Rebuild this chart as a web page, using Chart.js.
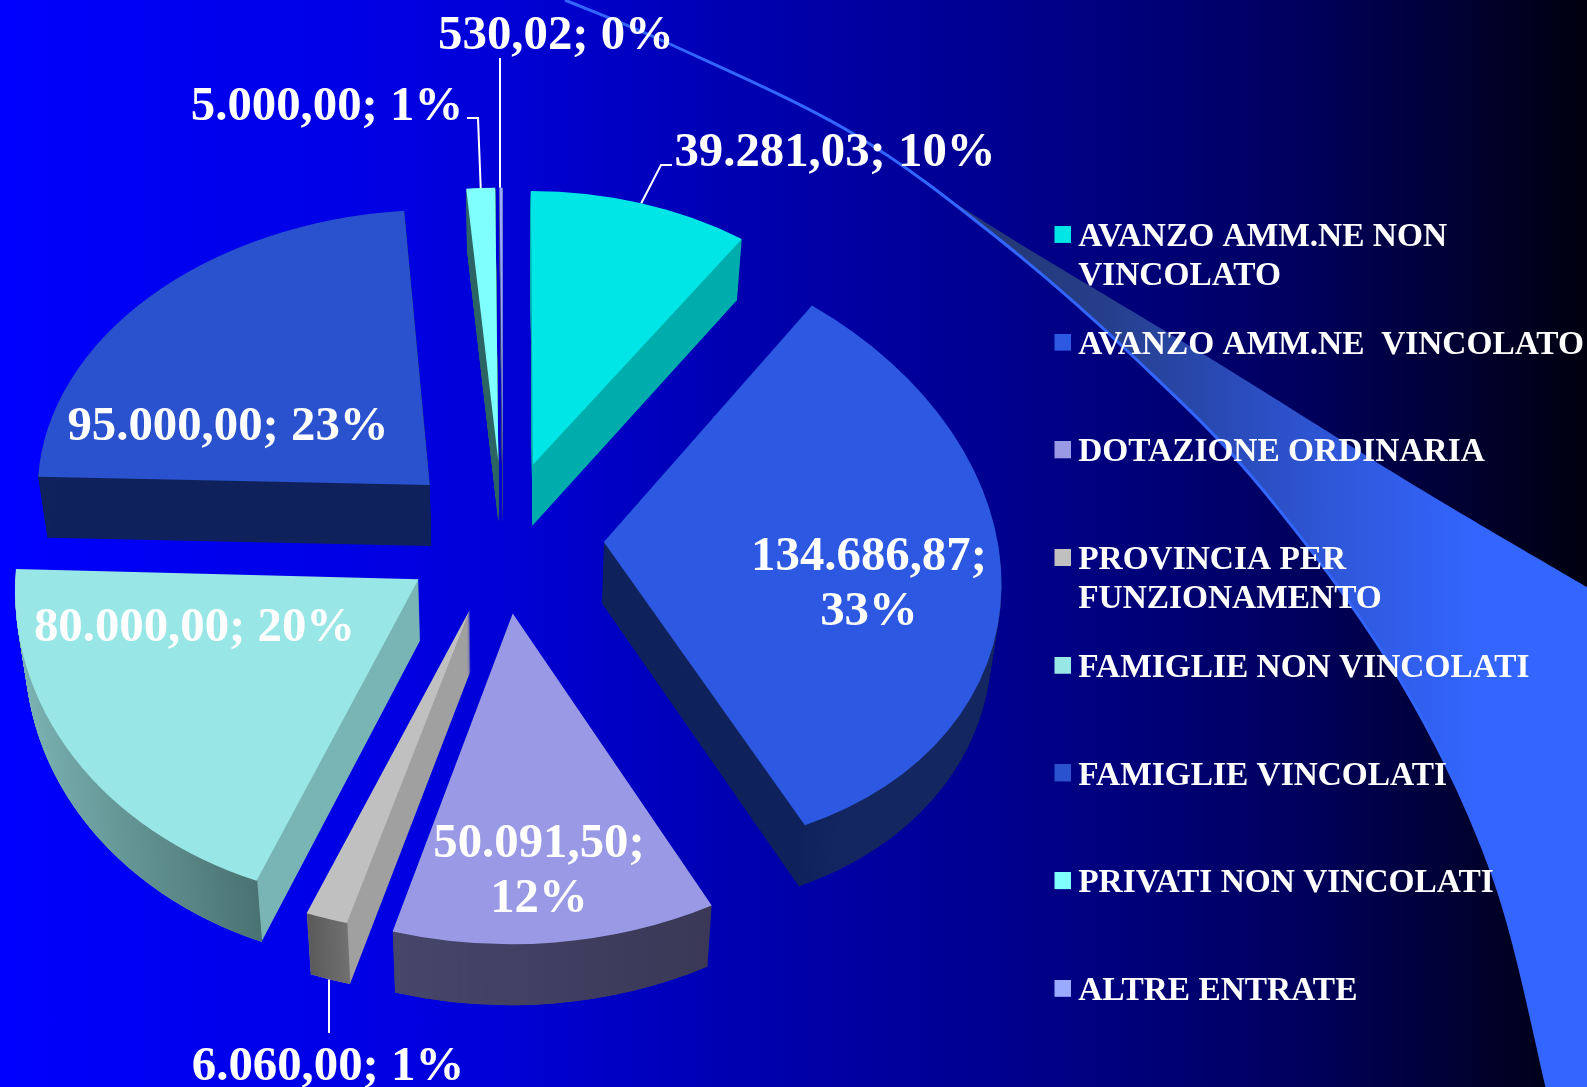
<!DOCTYPE html>
<html lang="it">
<head>
<meta charset="utf-8">
<title>Entrate</title>
<script src="https://cdn.jsdelivr.net/npm/chart.js@4/dist/chart.umd.min.js"></script>
<style>
html,body{margin:0;padding:0;width:1587px;height:1087px;overflow:hidden;background:#000}
#stage{position:relative;width:1587px;height:1087px;
 background:linear-gradient(90deg,#0000ff 0,#0000f0 180px,#0000e2 400px,#0000d6 500px,#0000b0 740px,#00008f 1000px,#00005e 1300px,#00000f 1587px)}
#swoosh{position:absolute;left:0;top:0}
#c{position:absolute;left:0;top:0;filter:blur(.5px)}
</style>
</head>
<body>
<div id="stage">
<svg id="swoosh" width="1587" height="1087" viewBox="0 0 1587 1087">
<defs><linearGradient id="sw" gradientUnits="userSpaceOnUse" x1="950" y1="0" x2="1480" y2="0">
<stop offset="0" stop-color="#24356e"/><stop offset=".3" stop-color="#263f8c"/><stop offset=".55" stop-color="#2a4cbc"/><stop offset=".75" stop-color="#2f58dc"/><stop offset="1" stop-color="#3366ff"/></linearGradient></defs>
<path id="swFill" fill="url(#sw)"/>
<path id="swLine" fill="none" stroke="#3366ff" stroke-width="3"/>
</svg>
<canvas id="c" width="1587" height="1087"></canvas>
</div>
<script>
// ---- data ----
const categories = [
  ['AVANZO AMM.NE NON', 'VINCOLATO'],
  ['AVANZO AMM.NE  VINCOLATO', ''],
  ['DOTAZIONE ORDINARIA', ''],
  ['PROVINCIA PER', 'FUNZIONAMENTO'],
  ['FAMIGLIE NON VINCOLATI', ''],
  ['FAMIGLIE VINCOLATI', ''],
  ['PRIVATI NON VINCOLATI', ''],
  ['ALTRE ENTRATE', '']
];
const values = [39281.03, 134686.87, 50091.50, 6060.00, 80000.00, 95000.00, 5000.00, 530.02];
const valueLabels = ['39.281,03; 10%', ['134.686,87;', '33%'], ['50.091,50;', '12%'], '6.060,00; 1%',
                     '80.000,00; 20%', '95.000,00; 23%', '5.000,00; 1%', '530,02; 0%'];

// ---- styles ----
const topColors  = ['#00E6E6', '#2C58E2', '#9999E6', '#C0C0C0', '#99E6E6', '#2A52CE', '#80FFFF', '#99AAFF'];
const cutColors  = ['#00ADAD', '#10225C', '#3E3C5C', '#A0A0A0', '#7AB5B5', '#10225C', '#2F6666', '#3A4A80'];
const wallFrom   = ['#00ADAD', '#10225C', '#46466C', '#5A5A5A', '#7CB4B4', '#10225C', '#2F6666', '#3A4A80'];
const wallTo     = ['#00ADAD', '#14265F', '#3A3856', '#707070', '#4A7272', '#10225C', '#2F6666', '#3A4A80'];
const labelCenters = [[835,153],[869,557],[539,844],[328,1067],[194.5,628],[228,427],[327,107],[556,36]];
const leaderPaths  = [[[672,165],[661,165]], null, null, [[329,1033]], null, null, [[467,118],[478,118]], [[500,58]]];

// perspective look of each slice: horizontal scale, horizontal lean, vertical lean, vertical scale
const sliceScaleX = [0.931, 0.993, 1.072, 1.140, 1.008, 0.980, 0.950, 0.950];
const sliceLeanX  = [0.005, 0.050, 0.003, 0.015, -0.034, -0.019, 0, 0];
const sliceLeanY  = [0, 0.067, -0.007, 0, -0.001, -0.002, 0, 0];
const sliceScaleY = [0.684, 0.763, 0.827, 0.817, 0.811, 0.688, 0.684, 0.684];

const PIE_CX = 503, PIE_CY = 537.5, EXPLODE = 101, EXPLODE_SQUASH = 0.755, DEPTH = 61, DEPTH_TAPER = 0.02;
const LABEL_FONT = 'bold 48.8px "Liberation Serif"';

function sliceGeom(el, i) {
  const p = el.getProps(['x', 'y', 'startAngle', 'endAngle', 'outerRadius'], true);
  const a = (p.startAngle + p.endAngle) / 2;
  const ax = PIE_CX + EXPLODE * Math.cos(a);
  const ay = PIE_CY + EXPLODE * EXPLODE_SQUASH * Math.sin(a);
  return {...p, a, ax, ay, sx: sliceScaleX[i], sh: sliceLeanX[i], m: sliceLeanY[i], k: sliceScaleY[i]};
}
function applySlice(ctx, g, d) {
  const f = 1 - DEPTH_TAPER * d / DEPTH;
  ctx.translate(PIE_CX, d);
  ctx.scale(f, 1);
  ctx.translate(-PIE_CX, 0);
  ctx.translate(g.ax, g.ay);
  ctx.transform(g.sx, g.m, g.sh, g.k, 0, 0);
  ctx.translate(-g.x, -g.y);
}
function rimPoint(g) {
  const u = g.outerRadius * Math.cos(g.a), v = g.outerRadius * Math.sin(g.a);
  return [g.ax + g.sx * u + g.sh * v, g.ay + g.m * u + g.k * v];
}

const pie3d = {
  id: 'pie3d',
  beforeDatasetDraw(chart) {
    const ctx = chart.ctx;
    const arcs = chart.getDatasetMeta(0).data;
    const order = arcs.map((el, i) => ({el, i, g: sliceGeom(el, i)})).sort((u, v) => u.g.ay - v.g.ay);
    for (const {el, i, g} of order) {
      ctx.fillStyle = cutColors[i];
      for (let d = DEPTH; d > 0; d--) {
        ctx.save();
        applySlice(ctx, g, d);
        ctx.beginPath();
        ctx.moveTo(g.x, g.y);
        ctx.arc(g.x, g.y, g.outerRadius, g.startAngle, g.endAngle);
        ctx.closePath();
        ctx.fill();
        ctx.restore();
      }
      for (let d = DEPTH; d > 0; d--) {
        ctx.save();
        applySlice(ctx, g, d);
        const grad = ctx.createLinearGradient(
          g.x + g.outerRadius * Math.min(Math.cos(g.startAngle), Math.cos(g.endAngle)), 0,
          g.x + g.outerRadius * Math.max(Math.cos(g.startAngle), Math.cos(g.endAngle)), 0);
        grad.addColorStop(0, wallFrom[i]);
        grad.addColorStop(1, wallTo[i]);
        ctx.strokeStyle = grad;
        ctx.lineWidth = 2;
        ctx.beginPath();
        ctx.arc(g.x, g.y, g.outerRadius - 1, g.startAngle, g.endAngle);
        ctx.stroke();
        ctx.restore();
      }
      ctx.save();
      applySlice(ctx, g, 0);
      el.draw(ctx);
      ctx.restore();
    }
    return false;
  },
  afterDatasetsDraw(chart) {
    const ctx = chart.ctx;
    const arcs = chart.getDatasetMeta(0).data;
    ctx.save();
    ctx.strokeStyle = '#fff';
    ctx.lineWidth = 2;
    arcs.forEach((el, i) => {
      const path = leaderPaths[i];
      if (!path) return;
      const g = sliceGeom(el, i);
      const rim = rimPoint(g);
      if (Math.sin(g.a) > 0) rim[1] += DEPTH;
      ctx.beginPath();
      path.forEach((pt, n) => n ? ctx.lineTo(pt[0], pt[1]) : ctx.moveTo(pt[0], pt[1]));
      ctx.lineTo(path.length === 1 ? path[0][0] : rim[0], rim[1]);
      ctx.stroke();
    });
    ctx.font = LABEL_FONT;
    ctx.fillStyle = '#fff';
    ctx.textAlign = 'center';
    ctx.textBaseline = 'middle';
    valueLabels.forEach((t, i) => {
      const lines = Array.isArray(t) ? t : [t];
      const [x, y] = labelCenters[i];
      lines.forEach((line, n) => ctx.fillText(line, x, y + n * 55));
    });
    ctx.restore();
  }
};

function legendSwatch(color) {
  const s = document.createElement('canvas');
  s.width = 21; s.height = 23;
  const c = s.getContext('2d');
  c.fillStyle = color;
  c.fillRect(4, 0, 17, 17);
  return s;
}

new Chart(document.getElementById('c'), {
  type: 'pie',
  data: {
    labels: categories,
    datasets: [{data: values, backgroundColor: topColors, borderWidth: 0, hoverOffset: 0}]
  },
  plugins: [pie3d],
  options: {
    responsive: false,
    animation: false,
    radius: 400,
    layout: {padding: {top: 190, left: 0, right: -7, bottom: 0}},
    plugins: {
      tooltip: {enabled: false},
      title: {display: false},
      legend: {
        position: 'right',
        align: 'start',
        labels: {
          font: {family: '"Liberation Serif"', weight: 'bold', size: 33.4, lineHeight: '38.5px'},
          color: '#fff',
          boxWidth: 1,
          padding: 30.7,
          usePointStyle: true,
          generateLabels(chart) {
            return chart.data.labels.map((text, i) => ({
              text, index: i, fontColor: '#fff', hidden: false,
              pointStyle: legendSwatch(topColors[i]), fillStyle: topColors[i], lineWidth: 0, strokeStyle: 'transparent'
            }));
          }
        }
      }
    }
  }
});

// ---- decorative swoosh behind the chart ----
function smooth(pts) {
  let d = '';
  for (let i = 0; i < pts.length - 1; i++) {
    const p0 = pts[Math.max(i - 1, 0)], p1 = pts[i], p2 = pts[i + 1], p3 = pts[Math.min(i + 2, pts.length - 1)];
    d += ` C${p1[0] + (p2[0] - p0[0]) / 6} ${p1[1] + (p2[1] - p0[1]) / 6} ${p2[0] - (p3[0] - p1[0]) / 6} ${p2[1] - (p3[1] - p1[1]) / 6} ${p2[0]} ${p2[1]}`;
  }
  return d;
}
const swLower = [[565,0],[672,45],[852,133],[1000,240],[1137,360],[1263,490],[1400,680],[1493,875],[1547,1087]];
const swUpper = [[955,203],[1030,250],[1208,357],[1422,490],[1587,587]];
document.getElementById('swLine').setAttribute('d', 'M565 0' + smooth(swLower));
document.getElementById('swFill').setAttribute('d', 'M955 203' + smooth(swUpper) + ' L1587 1087 L1547 1087' + smooth(swLower.slice().reverse().slice(0, 6)) + ' Z');
</script>
</body>
</html>
